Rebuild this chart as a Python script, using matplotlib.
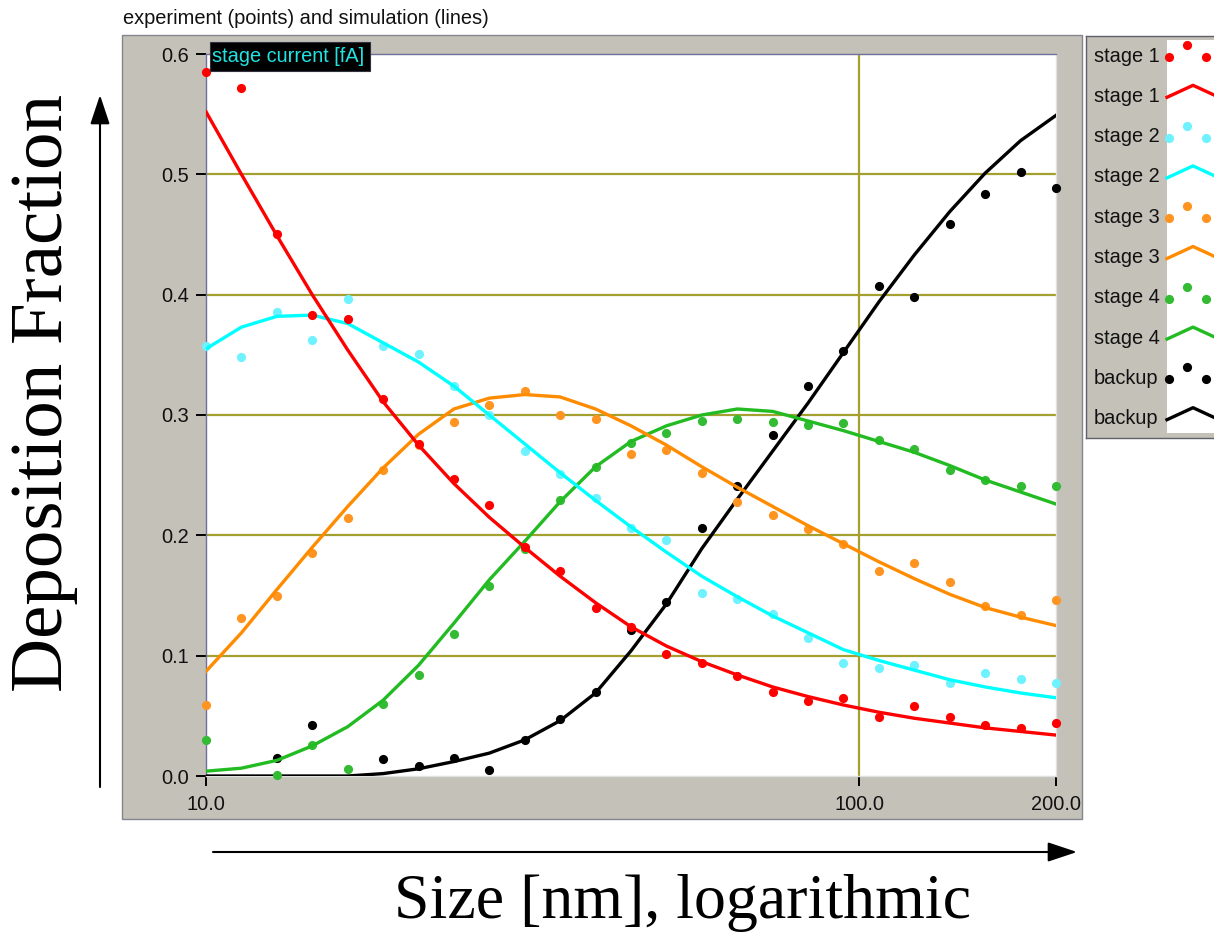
import matplotlib
matplotlib.use("Agg")
import matplotlib.pyplot as plt
from matplotlib.patches import Rectangle, FancyArrowPatch
from matplotlib.ticker import NullLocator

nan = float("nan")  # hidden / missing measurement

# ---------------- data ----------------
sizes_nm = [10.0, 11.33, 12.84, 14.54, 16.48, 18.67, 21.15, 23.96, 27.14, 30.75,
            34.84, 39.47, 44.72, 50.67, 57.40, 65.03, 73.68, 83.48, 94.57, 107.15,
            121.39, 137.53, 155.81, 176.53, 200.0]

stage1_exp = [0.585, 0.572, 0.450, 0.383, 0.380, 0.313, 0.276, 0.247, 0.225, 0.190,
              0.170, 0.140, 0.124, 0.101, 0.094, 0.083, 0.070, 0.062, 0.065, 0.049,
              0.058, 0.049, 0.042, 0.040, 0.044]
stage1_sim = [0.552, 0.500, 0.449, 0.400, 0.354, 0.311, 0.275, 0.243, 0.215, 0.190,
              0.166, 0.144, 0.124, 0.108, 0.095, 0.084, 0.074, 0.066, 0.059, 0.053,
              0.048, 0.044, 0.040, 0.037, 0.034]

stage2_exp = [0.357, 0.348, 0.386, 0.362, 0.396, 0.357, 0.351, 0.324, 0.300, 0.270,
              0.251, 0.231, 0.206, 0.196, 0.152, 0.147, 0.135, 0.115, 0.094, 0.090,
              0.092, 0.077, 0.086, 0.081, 0.077]
stage2_sim = [0.355, 0.373, 0.382, 0.383, 0.376, 0.360, 0.344, 0.324, 0.300, 0.276,
              0.252, 0.229, 0.207, 0.186, 0.166, 0.149, 0.133, 0.119, 0.105, 0.096,
              0.088, 0.080, 0.074, 0.069, 0.065]

stage3_exp = [0.059, 0.131, 0.150, 0.185, 0.214, 0.254, 0.275, 0.294, 0.308, 0.320,
              0.300, 0.297, 0.268, 0.271, 0.252, 0.228, 0.217, 0.205, 0.193, 0.170,
              0.177, 0.161, 0.141, 0.134, 0.146]
stage3_sim = [0.087, 0.119, 0.155, 0.190, 0.224, 0.256, 0.284, 0.305, 0.314, 0.317,
              0.315, 0.305, 0.291, 0.275, 0.257, 0.240, 0.224, 0.208, 0.193, 0.178,
              0.164, 0.151, 0.140, 0.132, 0.125]

stage4_exp = [0.030, nan, 0.001, 0.026, 0.006, 0.060, 0.084, 0.118, 0.158, 0.189,
              0.229, 0.257, 0.277, 0.285, 0.295, 0.297, 0.294, 0.292, 0.293, 0.279,
              0.272, 0.254, 0.246, 0.241, 0.241]
stage4_sim = [0.004, 0.0065, 0.013, 0.025, 0.041, 0.063, 0.092, 0.127, 0.163, 0.195,
              0.228, 0.257, 0.278, 0.291, 0.300, 0.305, 0.303, 0.295, 0.287, 0.278,
              0.269, 0.258, 0.246, 0.236, 0.226]

backup_exp = [nan, nan, 0.015, 0.042, nan, 0.014, 0.008, 0.015, 0.005, 0.030,
              0.047, 0.070, 0.121, 0.145, 0.206, 0.241, 0.283, 0.324, 0.353, 0.407,
              0.398, 0.459, 0.484, 0.502, 0.489]
backup_sim = [0.000, 0.000, 0.000, 0.000, 0.000, 0.002, 0.006, 0.012, 0.019, 0.030,
              0.046, 0.069, 0.104, 0.143, 0.189, 0.230, 0.270, 0.310, 0.352, 0.394,
              0.433, 0.469, 0.501, 0.528, 0.549]

series_names = ["stage 1", "stage 2", "stage 3", "stage 4", "backup"]
exp_values = [stage1_exp, stage2_exp, stage3_exp, stage4_exp, backup_exp]
sim_values = [stage1_sim, stage2_sim, stage3_sim, stage4_sim, backup_sim]
point_colors = ["#ff0000", "#6ef2ff", "#ff9420", "#33bb33", "#000000"]
line_colors = ["#ff0000", "#00ffff", "#ff8c00", "#22bb22", "#000000"]

x_ticks = [10, 100, 200]
x_tick_labels = ["10.0", "100.0", "200.0"]
y_ticks = [0.0, 0.1, 0.2, 0.3, 0.4, 0.5, 0.6]
y_tick_labels = ["0.0", "0.1", "0.2", "0.3", "0.4", "0.5", "0.6"]

title_text = "experiment (points) and simulation (lines)"
badge_text = "stage current [fA]"
ylabel_text = "Deposition Fraction"
xlabel_text = "Size [nm], logarithmic"

# ---------------- layout helpers ----------------
W, H, DPI = 1214, 936, 100
UI = "Liberation Sans"
SERIF = "Liberation Serif"
UI_SIZE = 14.4


def fx(px):
    return px / W


def fy(py):
    return 1 - py / H


fig = plt.figure(figsize=(W / DPI, H / DPI), dpi=DPI)
fig.patch.set_facecolor("white")

# grey instrument panel behind the plot
fig.add_artist(Rectangle((fx(122), fy(819)), fx(1082) - fx(122), fy(35) - fy(819),
                         transform=fig.transFigure, facecolor="#c3c1b8",
                         edgecolor="#85858f", lw=1.0, zorder=0))

ax = fig.add_axes([fx(206), fy(776), fx(1056) - fx(206), fy(54) - fy(776)])
ax.set_facecolor("white")
ax.set_xscale("log")
ax.set_xlim(10, 200)
ax.set_ylim(0, 0.6)

n = len(series_names)
for i in reversed(range(n)):
    z = 3 + (n - i) * 2
    ax.plot(sizes_nm, exp_values[i], linestyle="none", marker="o", markersize=6.6,
            markeredgewidth=0, color=point_colors[i], zorder=z, clip_on=False)
    ax.plot(sizes_nm, sim_values[i], linestyle="-", lw=2.4, color=line_colors[i],
            zorder=z + 1, solid_joinstyle="round")

ax.set_xticks(x_ticks)
ax.set_xticklabels(x_tick_labels)
ax.xaxis.set_minor_locator(NullLocator())
ax.set_yticks(y_ticks)
ax.set_yticklabels(y_tick_labels)
ax.tick_params(axis="both", direction="out", length=7, width=1.4, color="black",
               labelsize=UI_SIZE, labelcolor="#111111")
ax.tick_params(axis="y", pad=5.5)
ax.tick_params(axis="x", pad=6.5)
for lab in ax.get_xticklabels() + ax.get_yticklabels():
    lab.set_fontfamily(UI)

ax.grid(True, color="#a4a030", lw=1.6, zorder=1)
ax.set_axisbelow(True)
ygl = ax.get_ygridlines()
ygl[0].set_visible(False)
ygl[-1].set_visible(False)
xgl = ax.get_xgridlines()
xgl[0].set_visible(False)
xgl[-1].set_visible(False)

for side in ["left", "top"]:
    ax.spines[side].set_color("#70709a")
    ax.spines[side].set_linewidth(1.0)
for side in ["right", "bottom"]:
    ax.spines[side].set_color("#e0e0e0")
    ax.spines[side].set_linewidth(1.0)

# "stage current [fA]" badge
fig.add_artist(Rectangle((fx(210), fy(71)), fx(370) - fx(210), fy(42) - fy(71),
                         transform=fig.transFigure, facecolor="black",
                         edgecolor="#303040", lw=0.8, zorder=20))
fig.text(fx(212), fy(56.5), badge_text, family=UI, fontsize=UI_SIZE, color="#22e2e2",
         ha="left", va="center", zorder=21)

# title
fig.text(fx(123), fy(9), title_text, family=UI, fontsize=UI_SIZE, color="#111111",
         ha="left", va="top")

# ---------------- legend (manual, drawn in pixel coordinates) ----------------
lax = fig.add_axes([fx(1086), fy(438), fx(1260) - fx(1086), fy(36) - fy(438)])
lax.set_xlim(1086, 1260)
lax.set_ylim(438, 36)
lax.set_facecolor("#c3c1b8")
lax.set_xticks([])
lax.set_yticks([])
for s in lax.spines.values():
    s.set_color("#606068")
    s.set_linewidth(1.0)
lax.add_patch(Rectangle((1167, 40), 120, 393, facecolor="white", edgecolor="none",
                        zorder=4))
row0, drow = 56.0, 40.3
for k in range(2 * n):
    i = k // 2
    yc = row0 + k * drow
    lax.text(1094, yc, series_names[i], family=UI, fontsize=UI_SIZE, color="#111111",
             ha="left", va="center", zorder=3)
    if k % 2 == 0:
        lax.plot([1169, 1187, 1206], [yc + 1, yc - 11, yc + 1], linestyle="none",
                 marker="o", markersize=6.6, markeredgewidth=0,
                 color=point_colors[i], zorder=5)
    else:
        lax.plot([1167, 1193, 1219], [yc + 1, yc - 11, yc + 1], lw=2.4,
                 color=line_colors[i], zorder=5)

# ---------------- big axis captions with arrows ----------------
fig.text(fx(44), fy(393), ylabel_text, family=SERIF, fontsize=54, rotation=90,
         ha="center", va="center", color="black")
fig.text(fx(682), fy(903), xlabel_text, family=SERIF, fontsize=46,
         ha="center", va="center", color="black")

fig.add_artist(FancyArrowPatch((fx(100), fy(787)), (fx(100), fy(95)),
                               transform=fig.transFigure,
                               arrowstyle="-|>,head_length=0.9,head_width=0.3",
                               mutation_scale=20, lw=1.5, color="black",
                               shrinkA=0, shrinkB=0))
fig.add_artist(FancyArrowPatch((fx(213), fy(852)), (fx(1077), fy(852)),
                               transform=fig.transFigure,
                               arrowstyle="-|>,head_length=0.9,head_width=0.3",
                               mutation_scale=20, lw=1.5, color="black",
                               shrinkA=0, shrinkB=0))

fig.savefig("out.png", dpi=DPI, facecolor="white")
